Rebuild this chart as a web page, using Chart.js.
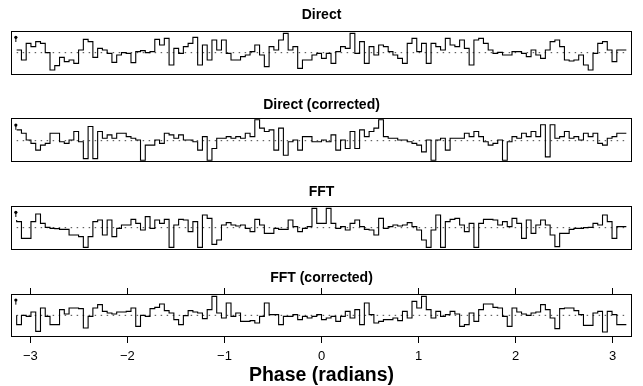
<!DOCTYPE html>
<html><head><meta charset="utf-8">
<script src="https://cdn.jsdelivr.net/npm/chart.js@4.4.1/dist/chart.umd.min.js"></script>
<style>
html,body{margin:0;padding:0;background:#fff;overflow:hidden;width:643px;height:386px}
canvas{position:absolute;left:0}
</style></head><body>
<canvas id="c1" width="643" height="80" style="top:0px"></canvas>
<canvas id="c2" width="643" height="80" style="top:88px"></canvas>
<canvas id="c3" width="643" height="80" style="top:176px"></canvas>
<canvas id="c4" width="643" height="127" style="top:260px"></canvas>
<script>
// ---- data (deviation from mean, arbitrary units; 128 phase bins from -pi to pi) ----
const panelTitles = ['Direct', 'Direct (corrected)', 'FFT', 'FFT (corrected)'];
const tickValues = [-3, -2, -1, 0, 1, 2, 3];
const tickLabels = ['\u22123', '\u22122', '\u22121', '0', '1', '2', '3'];
const axisTitle = 'Phase (radians)';
const meanLevel = 0;
const errBar = [32, 46];

const directVals = [
 8,8,-22,28,18,33,28,0,-52,-39,-14,-27,-22,-32,8,40,33,-14,13,8,-2,-29,-7,0,-2,-30,3,6,0,3,40,23,43,-37,13,-2,18,28,46,-37,23,
 -22,38,8,38,-2,-22,-22,-12,-7,3,23,-7,-42,18,8,38,58,8,18,-47,-22,-22,-7,-2,-17,-2,-32,3,18,13,58,-2,33,-32,18,-7,23,18,3,-7,-17,-32,28,43,
 3,28,-32,28,18,8,43,23,18,38,13,-37,38,43,28,8,-2,1,-7,-7,3,3,-2,-12,8,-7,-17,8,33,38,18,-22,-25,-22,-7,-37,-52,-2,28,33,8,-27,8];

const directCorrVals = [
 32,32,22,2,-8,-28,-13,-8,22,22,-3,-8,2,27,-3,-53,42,-53,27,7,17,7,22,22,12,7,2,-58,-13,-13,2,-8,22,17,7,17,2,2,-3,-28,12,-58,-23,
 7,7,12,7,12,7,22,12,62,37,27,32,-28,37,-43,-3,2,-28,12,12,-3,-3,2,-3,17,-28,2,-23,27,-23,32,12,27,37,62,12,7,7,2,2,-3,-8,
 -13,-33,2,-58,2,7,-28,7,7,7,22,12,27,12,-3,-13,-8,2,-58,-3,12,7,22,12,27,12,47,-48,47,7,12,27,7,12,2,22,12,22,-8,-13,7,12,22];

const fftVals = [
 23,18,-32,-32,18,41,13,1,-2,-3,-5,-5,-22,-22,-27,-59,-27,18,23,-22,23,-27,-2,8,8,25,13,-7,33,-2,23,13,25,-59,8,25,23,-12,18,-59,38,28,-50,
 -37,
 8,15,8,5,8,-2,-12,25,8,-17,-17,-2,-5,-5,23,3,-12,-2,3,58,
 13,13,58,13,-2,3,-7,13,23,3,-5,-7,-22,28,-2,3,8,5,8,15,3,-7,
 -37,-59,-7,38,-59,18,25,28,8,-12,13,-59,13,25,25,23,8,18,3,28,13,-32,23,-17,8,23,8,-22,-57,-17,-17,-5,-2,-2,0,1,13,8,38,18,-32,3];

const fftCorrVals = [
 0,-28,0,-3,10,-48,22,-3,-28,-28,17,4,22,22,20,-38,-3,22,32,12,7,4,10,10,12,22,-33,0,-3,20,24,34,14,7,-13,-28,-1,14,10,7,-10,17,57,
 7,-8,37,-3,7,-18,-18,-16,-23,-3,37,2,2,-28,-3,-3,2,-13,-3,-8,-3,2,-13,-8,-3,-18,-3,12,-8,17,-28,37,2,-23,-18,-13,-13,-8,-16,12,-8,42,22,57,
 17,-8,12,-3,2,12,4,-33,-28,7,-18,17,34,34,24,22,-3,-33,22,10,4,0,7,10,32,17,-8,-40,20,22,22,14,2,-30,-30,7,12,-50,12,2,-28];

const yRanges = [[-67, 65], [-63, 67], [-67, 65], [-65, 64]];

// ---- helpers ----
Chart.defaults.font.family = '"Liberation Sans", Arial, Helvetica, sans-serif';
Chart.defaults.color = '#000';
Chart.defaults.animation = false;

function stepData(vals) {
  const n = vals.length;
  const d = vals.map((v, i) => ({ x: -Math.PI + 2 * Math.PI * i / n, y: v }));
  d.push({ x: Math.PI, y: vals[n - 1] });
  return d;
}

const boxPlugin = {
  id: 'box',
  afterDraw(chart) {
    const { ctx, chartArea: a } = chart;
    ctx.save();
    ctx.strokeStyle = '#000';
    ctx.lineWidth = 1;
    const l = Math.round(a.left) + 0.5, t = Math.round(a.top) + 0.5;
    const r = Math.round(a.right) - 0.5, b = Math.round(a.bottom) - 0.5;
    ctx.strokeRect(l, t, r - l, b - t);
    ctx.restore();
  }
};

function makePanel(id, idx, vals, titlePad, layoutPad, withAxis) {
  const scales = {
    x: {
      type: 'linear', min: -3.2, max: 3.2, display: withAxis,
      afterBuildTicks: s => { s.ticks = tickValues.map(v => ({ value: v })); },
      ticks: { callback: (v) => tickLabels[tickValues.indexOf(v)], font: { size: 13 }, padding: 6, maxRotation: 0, autoSkip: false, color: '#000' },
      grid: { display: true, drawOnChartArea: false, drawTicks: true, tickLength: 6, color: '#000', lineWidth: 1 },
      border: { display: false },
      title: { display: withAxis, text: axisTitle, font: { size: 19.5, weight: 'bold' }, padding: { top: -7, bottom: 0 }, color: '#000' }
    },
    y: { min: yRanges[idx][0], max: yRanges[idx][1], display: false }
  };
  if (withAxis) {
    scales.xTop = {
      type: 'linear', position: 'top', min: -3.2, max: 3.2, display: true,
      afterBuildTicks: s => { s.ticks = tickValues.map(v => ({ value: v })); },
      ticks: { display: false },
      grid: { display: true, drawOnChartArea: false, drawTicks: true, tickLength: 6, color: '#000', lineWidth: 1 },
      border: { display: false }
    };
  }
  return new Chart(document.getElementById(id), {
    type: 'line',
    data: {
      datasets: [
        { data: stepData(vals), stepped: 'after', borderColor: '#000', borderWidth: 1.1, pointRadius: 0, fill: false },
        { data: [{ x: -Math.PI, y: meanLevel }, { x: Math.PI, y: meanLevel }], borderColor: '#444', borderWidth: 1, borderDash: [1.5, 4.5], pointRadius: 0, fill: false },
        { data: [{ x: -3.15, y: errBar[0] }, { x: -3.15, y: errBar[1] }], borderColor: '#000', borderWidth: 1, pointRadius: [0, 1.6], pointBackgroundColor: '#000', pointBorderWidth: 0, fill: false }
      ]
    },
    options: {
      responsive: false, maintainAspectRatio: false, animation: false,
      layout: { padding: layoutPad },
      plugins: {
        legend: { display: false }, tooltip: { enabled: false },
        title: { display: true, text: panelTitles[idx], font: { size: 14, weight: 'bold' }, color: '#000', padding: titlePad }
      },
      scales
    },
    plugins: [boxPlugin]
  });
}

makePanel('c1', 0, directVals, { top: 6.6, bottom: 7.6 }, { left: 11, right: 11, top: 0, bottom: 5 }, false);
makePanel('c2', 1, directCorrVals, { top: 8.6, bottom: 4.6 }, { left: 11, right: 11, top: 0, bottom: 6 }, false);
makePanel('c3', 2, fftVals, { top: 7.6, bottom: 5.6 }, { left: 11, right: 11, top: 0, bottom: 6 }, false);
makePanel('c4', 3, fftCorrVals, { top: 9.6, bottom: 1.6 }, { left: 11, right: 11, top: 0, bottom: 0 }, true);
</script>
</body></html>
